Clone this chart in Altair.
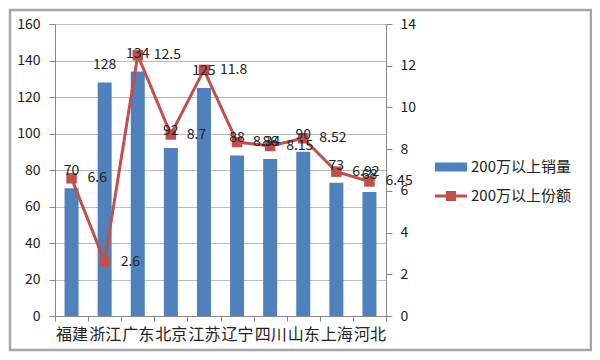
import altair as alt
import pandas as pd

provinces = ["福建", "浙江", "广东", "北京", "江苏", "辽宁", "四川", "山东", "上海", "河北"]
sales = [70, 128, 134, 92, 125, 88, 86, 90, 73, 68]
shares = [6.6, 2.6, 12.5, 8.7, 11.8, 8.34, 8.15, 8.52, 6.92, 6.45]
share_labels = ["6.6", "2.6", "12.5", "8.7", "11.8", "8.34", "8.15", "8.52", "6.92", "6.45"]
series_sales = "200万以上销量"
series_share = "200万以上份额"

FONT = "Noto Sans CJK SC"
BLUE = "#4F81BD"
RED = "#C0504D"
TXT = "#222222"

df = pd.DataFrame({
    "province": provinces,
    "sales": sales,
    "share": shares,
    "share_label": share_labels,
    "s1": [series_sales] * len(provinces),
    "s2": [series_share] * len(provinces),
})

W, H = 331, 292

x_enc = alt.X(
    "province:N", sort=provinces, title=None,
    scale=alt.Scale(paddingInner=0, paddingOuter=0),
    axis=alt.Axis(labelAngle=0, labelFontSize=16, labelFont=FONT, labelColor=TXT,
                  labelPadding=5, tickBand="extent", tickSize=5, tickColor="#888888",
                  domainColor="#888888", grid=False),
)

y_left = alt.Y(
    "sales:Q", title=None,
    scale=alt.Scale(domain=[0, 160], nice=False),
    axis=alt.Axis(values=list(range(0, 161, 20)), labelFontSize=14, labelFont=FONT,
                  labelColor=TXT, tickSize=6, labelPadding=9, tickColor="#888888",
                  domainColor="#888888", grid=True, gridColor="#BDBDBD"),
)
y_left_noaxis = alt.Y("sales:Q", scale=alt.Scale(domain=[0, 160], nice=False), axis=None)

y_right = alt.Y(
    "share:Q", title=None,
    scale=alt.Scale(domain=[0, 14], nice=False),
    axis=alt.Axis(orient="right", values=list(range(0, 15, 2)), labelFontSize=14,
                  labelFont=FONT, labelColor=TXT, tickSize=6, labelPadding=8,
                  tickColor="#888888", domainColor="#888888", grid=False),
)
y_right_noaxis = alt.Y("share:Q", scale=alt.Scale(domain=[0, 14], nice=False), axis=None)

bar_legend = alt.Legend(
    title=None, orient="none", legendX=386, legendY=133, padding=0,
    symbolType="M-1.6,-0.45H1.6V0.45H-1.6Z", symbolSize=400, symbolStrokeWidth=0,
    labelOffset=10, labelFontSize=15, labelFont=FONT, labelColor=TXT,
)
line_legend = alt.Legend(
    title=None, orient="none", legendX=386, legendY=162, padding=0,
    symbolType="M-1.6,-0.15H1.6V0.15H-1.6Z M-0.5,-0.5H0.5V0.5H-0.5Z",
    symbolSize=400, symbolStrokeWidth=0,
    labelOffset=10, labelFontSize=15, labelFont=FONT, labelColor=TXT,
)

base = alt.Chart(df)

bars = base.mark_bar(size=14).encode(
    x=x_enc, y=y_left,
    color=alt.Color("s1:N", scale=alt.Scale(domain=[series_sales], range=[BLUE]), legend=bar_legend),
)

line = base.mark_line(strokeWidth=3, color=RED).encode(x=x_enc, y=y_right)
pts = base.mark_square(size=110, filled=True, opacity=1).encode(
    x=x_enc, y=y_right,
    color=alt.Color("s2:N", scale=alt.Scale(domain=[series_share], range=[RED]), legend=line_legend),
)
right = alt.layer(line, pts)

bar_text = base.mark_text(dy=-17, fontSize=14, font=FONT, color=TXT, baseline="middle").encode(
    x=x_enc, y=y_left_noaxis, text="sales:Q",
)
line_text = base.mark_text(dx=16, align="left", baseline="middle", fontSize=14, font=FONT, color=TXT).encode(
    x=x_enc, y=y_right_noaxis, text="share_label:N",
)

frame = alt.Chart(pd.DataFrame({"a": [0]})).mark_rect(
    filled=False, stroke="#A6A6A6", strokeWidth=2.5
).encode(
    x=alt.value(-45), x2=alt.value(536), y=alt.value(-14), y2=alt.value(326)
)

chart = alt.layer(bars, right, bar_text, line_text, frame).resolve_scale(
    y="independent", color="independent"
).resolve_legend(color="independent").properties(
    width=W, height=H, autosize="none",
    padding={"left": 47, "top": 16, "right": 206, "bottom": 36},
).configure_view(strokeWidth=0)

chart.save("out.html", embed_options={"renderer": "svg", "actions": False})
